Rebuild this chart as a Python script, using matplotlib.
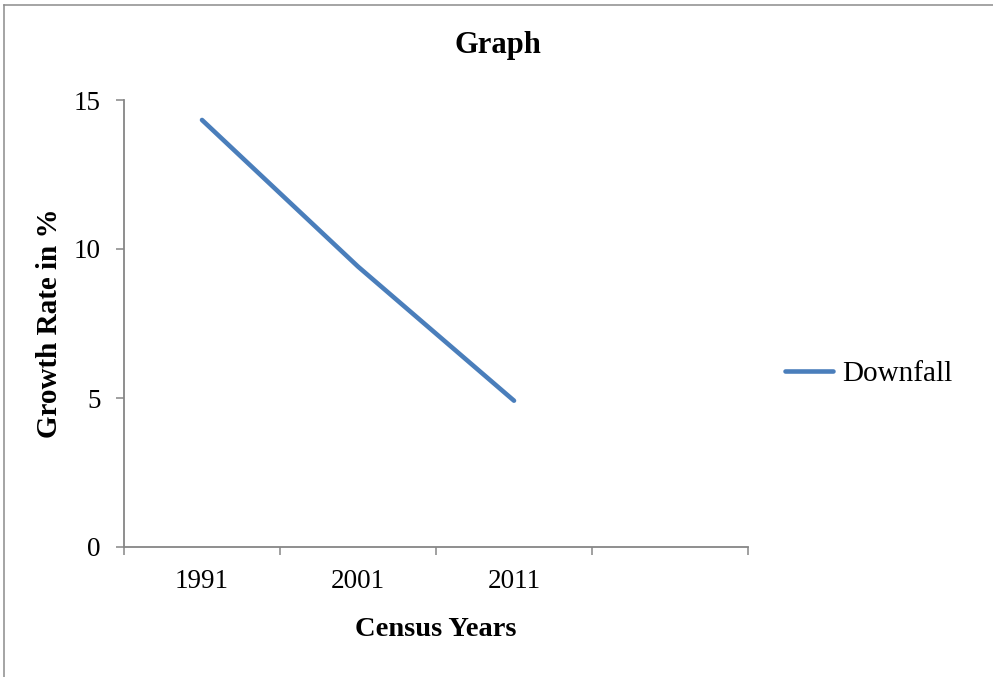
import matplotlib
matplotlib.use("Agg")
import matplotlib.pyplot as plt
from matplotlib.lines import Line2D

# data
years = ["1991", "2001", "2011", ""]
growth_rate = [14.33, 9.41, 4.91]
series_name = "Downfall"

LINE_COLOR = "#4A7EBB"
AXIS_COLOR = "#868686"

plt.rcParams["font.family"] = ["Liberation Serif", "DejaVu Serif"]


def plot():
    fig = plt.figure(figsize=(9.93, 6.77), dpi=100)
    ax = fig.add_axes([124 / 993, 1 - 547 / 677, 624 / 993, 447 / 677])

    xs = list(range(len(growth_rate)))
    ax.plot(xs, growth_rate, color=LINE_COLOR, lw=3.3,
            solid_capstyle="round", solid_joinstyle="round", label=series_name)

    ax.set_xlim(-0.5, len(years) - 0.5)
    ax.set_ylim(0, 15)

    # category boundaries get the tick marks, centres get the labels
    ax.set_xticks([i - 0.5 for i in range(len(years) + 1)])
    ax.set_xticklabels([])
    ax.set_xticks(list(range(len(years))), minor=True)
    ax.set_xticklabels(years, minor=True, fontsize=19.5)
    ax.tick_params(axis="x", which="major", length=6, width=1.1,
                   color=AXIS_COLOR, direction="out")
    ax.tick_params(axis="x", which="minor", length=0, pad=16)

    ax.set_yticks([0, 5, 10, 15])
    ax.tick_params(axis="y", length=6, width=1.1, color=AXIS_COLOR,
                   direction="out", pad=11, labelsize=19.5)

    for side in ("top", "right"):
        ax.spines[side].set_visible(False)
    for side in ("left", "bottom"):
        ax.spines[side].set_color(AXIS_COLOR)
        ax.spines[side].set_linewidth(1.3)

    ax.set_xlabel("Census Years", fontsize=20.5, fontweight="bold")
    ax.xaxis.set_label_coords(0.5, (547 - 630) / 447)
    ax.xaxis.label.set_va("center")
    ax.set_ylabel("Growth Rate in %", fontsize=21, fontweight="bold")
    ax.yaxis.set_label_coords((50 - 124) / 624, 0.5)
    ax.yaxis.label.set_va("center")

    fig.text(498 / 993, 1 - 46 / 677, "Graph", fontsize=22,
             fontweight="bold", ha="center", va="center")

    ax.legend(loc="center left", bbox_to_anchor=(785 / 993, 1 - 374 / 677),
              bbox_transform=fig.transFigure, frameon=False, fontsize=21,
              handlelength=1.65, handletextpad=0.3, borderpad=0,
              borderaxespad=0)

    # chart area border (only top and left visible in the crop)
    fig.add_artist(Line2D([4 / 993, 4 / 993], [0, 1 - 5 / 677],
                          transform=fig.transFigure, color="#8C8C8C", lw=1.1))
    fig.add_artist(Line2D([4 / 993, 1], [1 - 5 / 677, 1 - 5 / 677],
                          transform=fig.transFigure, color="#8C8C8C", lw=1.1))

    fig.savefig("out.png", dpi=100)


if __name__ == "__main__":
    plot()
